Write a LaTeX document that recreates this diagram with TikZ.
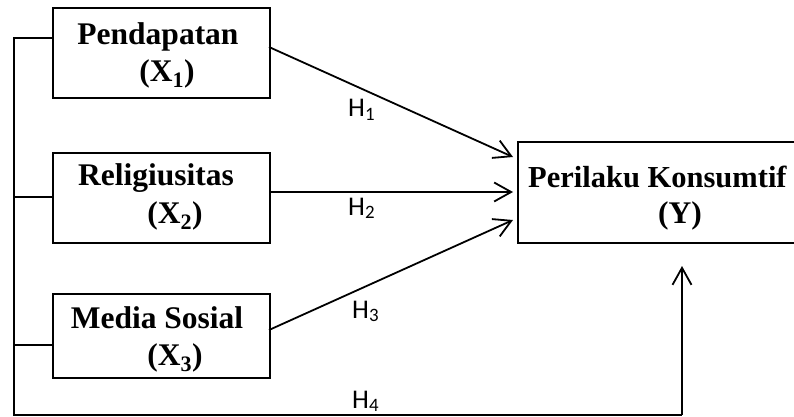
\documentclass[tikz,border=0pt]{standalone}
\usepackage{fontspec}
\setmainfont{Liberation Serif}
\newfontfamily\hfont{Carlito}
\usetikzlibrary{arrows.meta}
\tikzset{
  varbox/.style={draw, line width=2pt, anchor=north west, inner sep=0pt},
  boxtext/.style={anchor=base, inner sep=0pt, font=\fontsize{31.5}{36}\selectfont\bfseries},
  hlabel/.style={anchor=base west, inner sep=0pt, font=\hfont\fontsize{27}{30}\selectfont},
  link/.style={line width=1.8pt},
  arr/.style={line width=1.8pt, -{Straight Barb[length=17pt,width=19pt,line width=1.8pt]}}
}
\begin{document}
\begin{tikzpicture}[x=1pt,y=-1pt]
\useasboundingbox (0,0) rectangle (794,417);
\clip (0,0) rectangle (794,417);
% boxes
\node[varbox, minimum width=217pt, minimum height=90pt] (x1) at (52,7) {};
\node[varbox, minimum width=217pt, minimum height=90pt] (x2) at (52,152) {};
\node[varbox, minimum width=217pt, minimum height=84pt] (x3) at (52,293) {};
\node[varbox, minimum width=300pt, minimum height=101pt] (y) at (517,141) {};
% box texts
\node[boxtext] (t1a) at (158,45) {Pendapatan};
\node[boxtext] (t1b) at (167,82) {(X\textsubscript{1})};
\node[boxtext] (t2a) at (156,185) {Religiusitas};
\node[boxtext] (t2b) at (175,223) {(X\textsubscript{2})};
\node[boxtext] (t3a) at (157,328) {Media Sosial};
\node[boxtext] (t3b) at (175,365) {(X\textsubscript{3})};
\node[boxtext, anchor=base west, font=\fontsize{30.5}{36}\selectfont\bfseries] (tya) at (528,187) {Perilaku Konsumtif};
\node[boxtext] (tyb) at (680,223) {(Y)};
% connector end points
\coordinate (s1) at (269,47);
\coordinate (e1) at (513,157);
\coordinate (s2) at (269,192);
\coordinate (e2) at (513,192);
\coordinate (s3) at (269,330);
\coordinate (e3) at (513,220);
\coordinate (b1) at (14,38);
\coordinate (b2) at (14,197);
\coordinate (b3) at (14,345);
\coordinate (bb) at (14,415);
\coordinate (bc) at (682,415);
\coordinate (e4) at (682,266);
% arrows
\draw[arr] (s1) -- (e1);
\draw[arr] (s2) -- (e2);
\draw[arr] (s3) -- (e3);
% bus
\draw[link] (x1.west |- b1) -- (b1) -- (bb) -- (bc);
\draw[link] (b2) -- (x2.west |- b2);
\draw[link] (b3) -- (x3.west |- b3);
\draw[arr] (bc) -- (e4);
% labels
\node[hlabel] (h1) at (348,117) {H\textsubscript{1}};
\node[hlabel] (h2) at (348,215) {H\textsubscript{2}};
\node[hlabel] (h3) at (352,318) {H\textsubscript{3}};
\node[hlabel] (h4) at (352,408) {H\textsubscript{4}};
\end{tikzpicture}
\end{document}
